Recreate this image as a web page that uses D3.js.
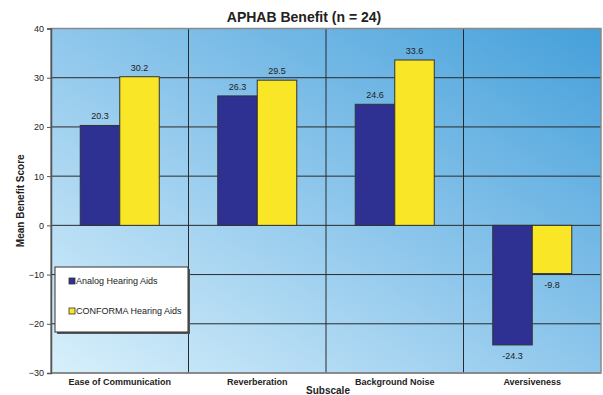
<!DOCTYPE html>
<html>
<head>
<meta charset="utf-8">
<script src="https://cdn.jsdelivr.net/npm/d3@7/dist/d3.min.js"></script>
<style>
  body { margin: 0; background: #fff; }
  text { font-family: Arial, "Liberation Sans", sans-serif; }
</style>
</head>
<body>
<div id="chart"></div>
<script>
// data
const categories = ["Ease of Communication", "Reverberation", "Background Noise", "Aversiveness"];
const seriesNames = ["Analog Hearing Aids", "CONFORMA Hearing Aids"];
const analogValues = [20.3, 26.3, 24.6, -24.3];
const conformaValues = [30.2, 29.5, 33.6, -9.8];
const yTicks = [-30, -20, -10, 0, 10, 20, 30, 40];
const seriesColors = ["#2e3192", "#f9e627"];

const W = 603, H = 395;
const margin = { top: 28.5, right: 2, bottom: 22, left: 51 };
const width = W - margin.left - margin.right;
const height = H - margin.top - margin.bottom;

const svg = d3.select("#chart").append("svg")
    .attr("width", W)
    .attr("height", H);

const defs = svg.append("defs");
const grad = defs.append("linearGradient")
    .attr("id", "bg")
    .attr("x1", "0%").attr("y1", "100%")
    .attr("x2", "100%").attr("y2", "0%");
grad.append("stop").attr("offset", "0%").attr("stop-color", "#d8f0fb");
grad.append("stop").attr("offset", "50%").attr("stop-color", "#8fc7ec");
grad.append("stop").attr("offset", "100%").attr("stop-color", "#45a0da");

const g = svg.append("g")
    .attr("transform", `translate(${margin.left},${margin.top})`);

const x = d3.scaleBand()
    .domain(categories)
    .range([0, width]);

const x1 = d3.scaleBand()
    .domain(seriesNames)
    .range([0, x.bandwidth()])
    .paddingInner(0)
    .paddingOuter(0.74);

const y = d3.scaleLinear()
    .domain([-30, 40])
    .range([height, 0]);

// background
g.append("rect")
    .attr("width", width)
    .attr("height", height)
    .attr("fill", "url(#bg)");

// horizontal gridlines
g.selectAll(".hgrid")
    .data(yTicks)
    .enter().append("line")
    .attr("x1", 0).attr("x2", width)
    .attr("y1", d => y(d)).attr("y2", d => y(d))
    .attr("stroke", "#2a2a2a")
    .attr("stroke-width", 1);

// vertical category dividers
g.selectAll(".vgrid")
    .data(categories.slice(1))
    .enter().append("line")
    .attr("x1", d => x(d)).attr("x2", d => x(d))
    .attr("y1", 0).attr("y2", height)
    .attr("stroke", "#2a2a2a")
    .attr("stroke-width", 1);

// frame
g.append("rect")
    .attr("width", width)
    .attr("height", height)
    .attr("fill", "none")
    .attr("stroke", "#8a8a8a")
    .attr("stroke-width", 1.5);

// bars
const rows = categories.map((c, i) => ({
    cat: c,
    vals: [
        { key: seriesNames[0], v: analogValues[i] },
        { key: seriesNames[1], v: conformaValues[i] }
    ]
}));

const groups = g.selectAll(".cat")
    .data(rows)
    .enter().append("g")
    .attr("transform", d => `translate(${x(d.cat)},0)`);

groups.selectAll("rect")
    .data(d => d.vals)
    .enter().append("rect")
    .attr("x", d => x1(d.key))
    .attr("width", x1.bandwidth())
    .attr("y", d => y(Math.max(0, d.v)))
    .attr("height", d => Math.abs(y(d.v) - y(0)))
    .attr("fill", (d, i) => seriesColors[i])
    .attr("stroke", "#333")
    .attr("stroke-width", 1);

groups.selectAll(".val")
    .data(d => d.vals)
    .enter().append("text")
    .attr("x", d => x1(d.key) + x1.bandwidth() / 2)
    .attr("y", d => d.v >= 0 ? y(d.v) - 6 : y(d.v) + 14)
    .attr("text-anchor", "middle")
    .style("font-size", "9px")
    .style("fill", "#222")
    .text(d => d.v.toFixed(1));

// y axis
const yAxis = g.append("g")
    .call(d3.axisLeft(y).tickValues(yTicks).tickSize(4).tickPadding(3));
yAxis.select(".domain").attr("stroke", "#555").attr("stroke-width", 1.5);
yAxis.selectAll(".tick line").attr("stroke", "#555");
yAxis.selectAll(".tick text")
    .style("font-size", "9px")
    .style("font-family", "Arial, 'Liberation Sans', sans-serif")
    .attr("fill", "#222");

// category labels
g.selectAll(".xlab")
    .data(categories)
    .enter().append("text")
    .attr("x", d => x(d) + x.bandwidth() / 2)
    .attr("y", height + 12)
    .attr("text-anchor", "middle")
    .style("font-size", "9px")
    .style("font-weight", "bold")
    .style("fill", "#222")
    .text(d => d);

// x-axis title
svg.append("text")
    .attr("x", 328)
    .attr("y", 394)
    .attr("text-anchor", "middle")
    .style("font-size", "10px")
    .style("font-weight", "bold")
    .style("fill", "#222")
    .text("Subscale");

// y-axis title
svg.append("text")
    .attr("transform", `translate(24,${margin.top + height / 2}) rotate(-90)`)
    .attr("text-anchor", "middle")
    .style("font-size", "10px")
    .style("font-weight", "bold")
    .style("fill", "#222")
    .text("Mean Benefit Score");

// chart title
svg.append("text")
    .attr("x", 304)
    .attr("y", 22)
    .attr("text-anchor", "middle")
    .style("font-size", "14px")
    .style("font-weight", "bold")
    .style("fill", "#222")
    .text("APHAB Benefit (n = 24)");

// legend
const legend = svg.append("g").attr("transform", "translate(55,267)");
legend.append("rect")
    .attr("x", 2).attr("y", 2)
    .attr("width", 133).attr("height", 65)
    .attr("fill", "#555");
legend.append("rect")
    .attr("width", 133).attr("height", 65)
    .attr("fill", "#fff")
    .attr("stroke", "#333")
    .attr("stroke-width", 1);

const items = legend.selectAll(".item")
    .data(seriesNames)
    .enter().append("g")
    .attr("transform", (d, i) => `translate(14,${16 + i * 30})`);
items.append("rect")
    .attr("width", 6).attr("height", 6)
    .attr("y", -5)
    .attr("fill", (d, i) => seriesColors[i])
    .attr("stroke", "#333")
    .attr("stroke-width", 0.8);
items.append("text")
    .attr("x", 7)
    .attr("y", 1)
    .style("font-size", "9px")
    .style("fill", "#222")
    .text(d => d);
</script>
</body>
</html>
